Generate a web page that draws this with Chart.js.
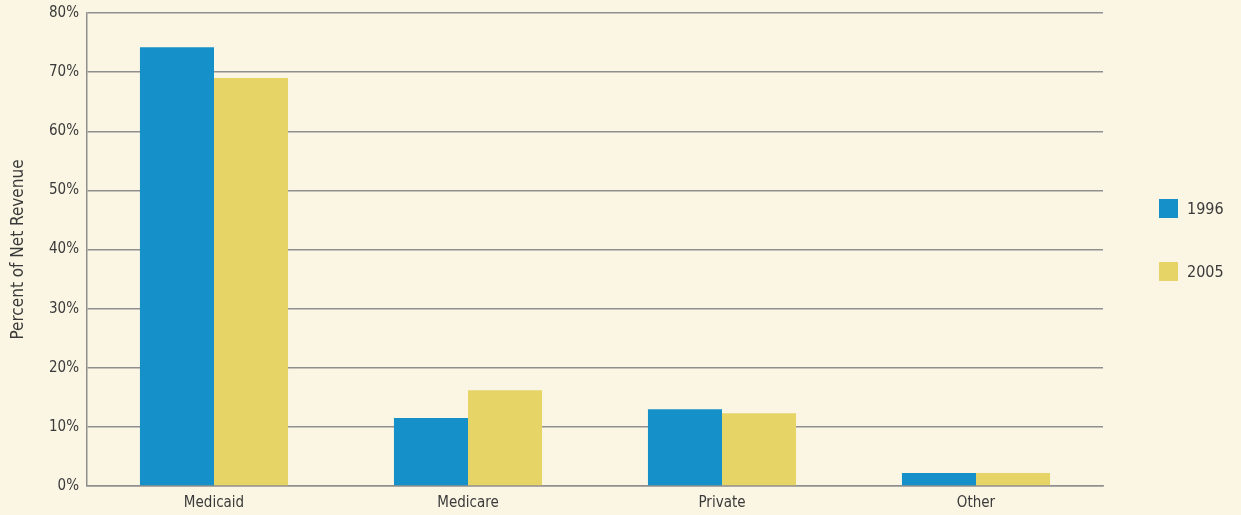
<!DOCTYPE html>
<html>
<head>
<meta charset="utf-8">
<script src="https://cdn.jsdelivr.net/npm/chart.js@4/dist/chart.umd.min.js"></script>
<style>
  html, body { margin: 0; padding: 0; background: #faf6e3; }
  #wrap { position: relative; width: 1241px; height: 515px; }
  .leg { position: absolute; left: 1159px; font-family: "Liberation Sans Narrow", "DejaVu Sans Condensed", Roboto, sans-serif; font-size: 16px; color: #3a3a3a; display: flex; align-items: center; }
  .leg span.box { display: inline-block; width: 19px; height: 19px; margin-right: 9px; }
</style>
</head>
<body>
<div id="wrap">
  <canvas id="chart" width="1241" height="515"></canvas>
  <div class="leg" style="top:199px"><span class="box" style="background:#1590c8"></span>1996</div>
  <div class="leg" style="top:262px"><span class="box" style="background:#e6d467"></span>2005</div>
</div>
<script>
const categories = ['Medicaid', 'Medicare', 'Private', 'Other'];
const values1996 = [74.2, 11.5, 13.0, 2.2];
const values2005 = [69.0, 16.2, 12.3, 2.2];
const yTicks = [0, 10, 20, 30, 40, 50, 60, 70, 80];

const font = "'Liberation Sans Narrow', 'DejaVu Sans Condensed', Roboto, sans-serif";
const gridColor = '#8f8f8f';

const ctx = document.getElementById('chart').getContext('2d');

new Chart(ctx, {
    type: 'bar',
    data: {
        labels: categories,
        datasets: [
            { label: '1996', data: values1996, backgroundColor: '#1590c8' },
            { label: '2005', data: values2005, backgroundColor: '#e6d467' }
        ]
    },
    options: {
        responsive: false,
        animation: false,
        datasets: {
            bar: { categoryPercentage: 0.583, barPercentage: 1.0 }
        },
        layout: { padding: { top: 0, right: 138, left: 0, bottom: 0 } },
        plugins: {
            legend: { display: false },
            tooltip: { enabled: false }
        },
        scales: {
            x: {
                grid: { display: false, drawTicks: false },
                border: { display: true, color: gridColor, width: 1.5 },
                ticks: { color: '#3a3a3a', padding: 8, font: { family: font, size: 15 } },
                afterFit: s => { s.height = 29; }
            },
            y: {
                min: 0,
                max: 80,
                afterBuildTicks: s => { s.ticks = yTicks.map(v => ({ value: v })); },
                grid: { color: gridColor, lineWidth: 1.5, drawTicks: false },
                border: { display: true, color: gridColor, width: 1.5 },
                ticks: {
                    color: '#3a3a3a',
                    padding: 8,
                    font: { family: font, size: 15 },
                    callback: v => v + '%'
                },
                title: {
                    display: true,
                    text: 'Percent of Net Revenue',
                    color: '#3a3a3a',
                    padding: { top: 8, bottom: 0 },
                    font: { family: font, size: 17 }
                },
                afterFit: s => { s.width = 87; s.paddingTop = 13; }
            }
        }
    }
});
</script>
</body>
</html>
